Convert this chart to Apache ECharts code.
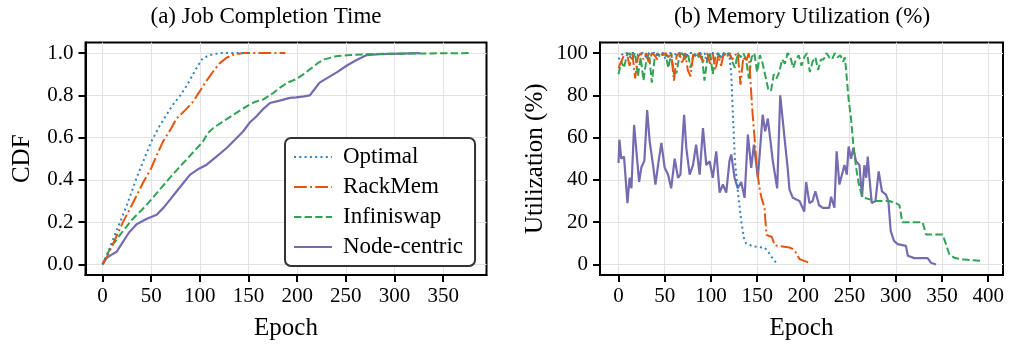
<!DOCTYPE html>
<html><head><meta charset="utf-8">
<script src="https://cdn.jsdelivr.net/npm/echarts@6/dist/echarts.min.js"></script>
<style>html,body{margin:0;padding:0;background:#fff}#c{width:1015px;height:349px}</style>
</head><body><div id="c"></div>
<script>
// ---------- DATA ----------
const seriesNames = ['Optimal', 'RackMem', 'Infiniswap', 'Node-centric'];
const xTicksA = [0, 50, 100, 150, 200, 250, 300, 350];
const yTicksA = [0, 0.2, 0.4, 0.6, 0.8, 1.0];
const xTicksB = [0, 50, 100, 150, 200, 250, 300, 350, 400];
const yTicksB = [0, 20, 40, 60, 80, 100];

// (a) CDF of job completion time: [epoch, cdf]
const cdfOptimal = [[0,0],[5,0.05],[10,0.11],[18,0.20],[25,0.28],[35,0.41],[42,0.49],[50,0.58],[58,0.65],[66,0.71],[73,0.76],[80,0.80],[87,0.85],[93,0.90],[98,0.94],[103,0.975],[110,0.99],[120,1.0],[150,1.0]];
const cdfRackMem = [[0,0],[5,0.04],[12,0.11],[21,0.20],[30,0.28],[42,0.39],[50,0.455],[56,0.52],[62,0.58],[70,0.64],[76,0.69],[85,0.73],[93,0.77],[100,0.82],[107,0.87],[114,0.915],[120,0.95],[127,0.977],[135,0.993],[145,1.0],[188,1.0]];
const cdfInfiniswap = [[0,0],[5,0.05],[10,0.09],[18,0.14],[30,0.21],[45,0.28],[58,0.35],[72,0.425],[85,0.49],[95,0.54],[103,0.58],[108,0.62],[114,0.646],[125,0.68],[135,0.71],[148,0.748],[157,0.77],[165,0.78],[175,0.81],[182,0.835],[190,0.86],[198,0.875],[206,0.898],[215,0.93],[222,0.955],[228,0.97],[240,0.985],[251,0.99],[278,0.996],[377,1.0]];
const cdfNode = [[0,0],[4,0.03],[9,0.045],[14.5,0.06],[20,0.1],[27,0.15],[35,0.19],[45,0.215],[55.6,0.235],[63,0.27],[70,0.31],[76,0.345],[83,0.385],[90,0.425],[98,0.45],[107,0.472],[117,0.51],[127.5,0.551],[136,0.59],[144.6,0.63],[151,0.67],[158,0.70],[165,0.735],[172,0.764],[182,0.775],[192.5,0.788],[199,0.79],[207,0.795],[213,0.80],[218,0.83],[223,0.86],[232,0.885],[241,0.91],[250.7,0.94],[260,0.965],[271,0.99],[285,0.995],[326,1.0]];

// (b) memory utilization (%): high-band samples every SAMPLE_STEP epochs from epoch 0, then the tail as [epoch, %]
const SAMPLE_STEP = 3;
const memOptimalHigh = [97,99,100,100,98,100,100,99,100,100,98,100,100,100,99,100,100,97,100,100,100,99,100,100,98,100,100,100,99,100,100,100,97,100,100,99,100,98,100,100,99];
const memOptimalTail = [[122,90],[124,69],[126,49],[129,35],[133,20],[136,12],[138,10],[145,8.6],[158,7.9],[162,6],[165,3.9],[172,0]];
const memRackHigh = [93,96,99,100,94,100,88,98,100,97,100,95,100,99,97,100,99,100,98,100,87,99,100,95,100,92,89,100,98,100,97,96,100,95,100,92,99,94,100,98,100,97,99,100,85,98,96,100];
const memRackTail = [[143,85],[145,72],[147,61],[149,50],[151,41],[153,35],[155,31],[158,27],[160,14],[166,13],[169,9],[185,8],[190,7],[196,2.5],[206,0.8]];
const memInfHigh = [90,96,93,99,100,97,100,89,98,87,96,100,86,97,100,98,100,99,93,100,90,91,99,100,97,100,93,99,100,98,100,87,97,100,90,99,100,97,100,99,100,96,93,100,98,100,97,88,98,100,91,99,95,89,83,82,90,88,91,97,95,100,98,93,97,99,94,98,100,91,96,98,92,97,97,100,98,97,100,98,99,96];
const memInfTail = [[245,98],[247,88],[249,78],[251.6,69],[254,57],[257,46],[260,38],[263,33],[266,31.5],[279,30],[293,30],[300,29],[304,28],[307,20],[329,20],[332.7,14.2],[350.6,14.2],[354,10],[358,4.7],[364,3],[372,2.4],[394,1.6]];
const memNode = [[0,48],[1,59],[3,50],[6,51],[9.7,29],[12,41],[14,36],[16.9,66],[19.4,53.5],[22.3,39],[24.8,46],[28,49],[31,73],[33.8,58],[37.4,47],[40,37.8],[42.8,47],[46.4,57.5],[50,45.7],[53.6,42.5],[57,36],[60.8,50],[64.4,41],[67,42.5],[71,70.8],[73.4,55],[77,42.5],[80.6,47],[84,56.7],[87.8,42.5],[91.4,64.5],[95,47],[98.6,48.8],[102,41],[105.8,53.5],[109.4,34],[113,37.8],[116.6,34],[120,48.8],[122,52],[125.6,41],[129,36],[132.8,39],[136.4,31.5],[140,61.4],[143.6,45.7],[146.5,56.7],[150.8,41],[156,70.8],[158.7,63],[161.6,69],[167,48.8],[171.7,36],[175,80],[179.6,60],[183,45.7],[185,35.4],[188.6,31.5],[195.8,30],[201,25],[203,39],[206.6,29],[210,30],[213,34.6],[217,28],[221,26.8],[228,26.8],[230,32],[233.6,26.8],[236,53.5],[239,37.8],[244.5,47],[247,42.5],[249,55.8],[251.6,50],[254,55],[257,48.8],[260.7,47],[263.5,32],[266,47],[268,41],[269.7,51],[271.5,41],[274,29],[278,30],[281.5,44],[285,34.6],[289.4,33],[292,30],[294.5,15.9],[298,11.2],[302,9.6],[311,8.8],[313,4.1],[320,3],[334.5,3],[338,0.8],[343.5,0]];

// ---------- BUILD ----------
function withEpochs(vals, tail) {
  return vals.map((v, i) => [i * SAMPLE_STEP, v]).concat(tail);
}
const colors = ['#3182bd', '#e6550d', '#31a354', '#756bb1'];
const dashes = [[2, 3.3], [12.8, 3.2, 2, 3.2], [7.4, 3.2], 'solid'];
const FONT = 'Liberation Serif';
const TICK_FS = 21;
const NAME_FS = 25;
const TITLE_FS = 23;

function mkX(idx, min, max, ticks) {
  return {
    type: 'value', gridIndex: idx, min: min, max: max,
    name: 'Epoch', nameLocation: 'middle', nameGap: 41,
    nameTextStyle: { fontFamily: FONT, fontSize: NAME_FS, color: '#000' },
    axisLine: { show: true, onZero: false, lineStyle: { color: '#000', width: 2 } },
    axisTick: { show: true, customValues: ticks, length: 7, lineStyle: { color: '#000', width: 2 } },
    axisLabel: { customValues: ticks, fontFamily: FONT, fontSize: TICK_FS, color: '#000', margin: 11 },
    splitLine: { show: true, lineStyle: { color: '#e2e2e2', width: 1 } }
  };
}
function mkY(idx, min, max, ticks, name, fmt, gap) {
  return {
    type: 'value', gridIndex: idx, min: min, max: max,
    name: name, nameLocation: 'middle', nameGap: gap,
    nameTextStyle: { fontFamily: FONT, fontSize: NAME_FS, color: '#000' },
    axisLine: { show: true, onZero: false, lineStyle: { color: '#000', width: 2 } },
    axisTick: { show: true, customValues: ticks, length: 7, lineStyle: { color: '#000', width: 2 } },
    axisLabel: { customValues: ticks, formatter: fmt, fontFamily: FONT, fontSize: TICK_FS, color: '#000', margin: 12 },
    splitLine: { show: true, lineStyle: { color: '#e2e2e2', width: 1 } }
  };
}
function mkLine(i, xi, data) {
  return {
    name: seriesNames[i], type: 'line', xAxisIndex: xi, yAxisIndex: xi,
    data: data, showSymbol: false, symbol: 'none', animation: false,
    color: colors[i],
    lineStyle: { color: colors[i], width: i === 3 ? 2.2 : 2, type: dashes[i], cap: 'butt' },
    z: 10 - i
  };
}

const chart = echarts.init(document.getElementById('c'), null, { renderer: 'canvas' });
chart.setOption({
  animation: false,
  backgroundColor: '#fff',
  grid: [
    { left: 85.5, top: 42.5, width: 401, height: 232.5, show: true, borderColor: '#000', borderWidth: 2, backgroundColor: 'transparent' },
    { left: 600, top: 42.5, width: 403, height: 232.5, show: true, borderColor: '#000', borderWidth: 2, backgroundColor: 'transparent' }
  ],
  xAxis: [mkX(0, -17.5, 394.5, xTicksA), mkX(1, -20, 416, xTicksB)],
  yAxis: [
    mkY(0, -0.05, 1.05, yTicksA, 'CDF', v => Number(v).toFixed(1), 51),
    mkY(1, -5, 105, yTicksB, 'Utilization (%)', v => String(v), 52)
  ],
  legend: {
    data: seriesNames, orient: 'vertical', left: 285, top: 138,
    itemWidth: 38, itemHeight: 14, itemGap: 6,
    padding: [7, 12, 7, 8],
    itemStyle: { opacity: 0 },
    backgroundColor: '#fff', borderColor: '#333', borderWidth: 2, borderRadius: 6,
    textStyle: { fontFamily: FONT, fontSize: 23, lineHeight: 24, color: '#000', padding: [0, 0, 0, 6] },
    selectedMode: false
  },
  graphic: [
    { type: 'text', x: 266, y: 17, style: { text: '(a) Job Completion Time', font: TITLE_FS + 'px "' + FONT + '"', fill: '#000', align: 'center', verticalAlign: 'middle' } },
    { type: 'text', x: 802, y: 17, style: { text: '(b) Memory Utilization (%)', font: TITLE_FS + 'px "' + FONT + '"', fill: '#000', align: 'center', verticalAlign: 'middle' } }
  ],
  series: [
    mkLine(0, 0, cdfOptimal), mkLine(1, 0, cdfRackMem), mkLine(2, 0, cdfInfiniswap), mkLine(3, 0, cdfNode),
    mkLine(0, 1, withEpochs(memOptimalHigh, memOptimalTail)),
    mkLine(1, 1, withEpochs(memRackHigh, memRackTail)),
    mkLine(2, 1, withEpochs(memInfHigh, memInfTail)),
    mkLine(3, 1, memNode)
  ]
});
</script>
</body></html>
